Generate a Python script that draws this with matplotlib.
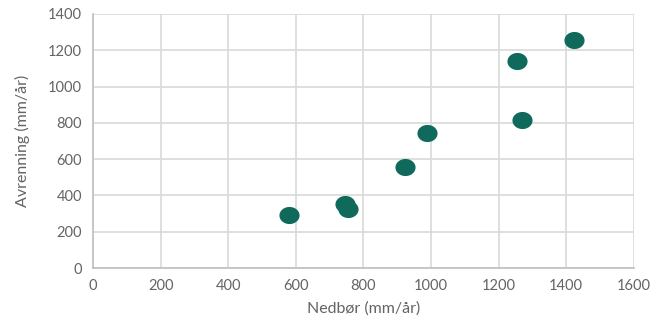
import numpy as np
import matplotlib.pyplot as plt
from matplotlib.path import Path

nedbor = [580, 745, 754, 923, 988, 1254, 1269, 1423]
avrenning = [292, 353, 325, 557, 744, 1141, 816, 1257]

x_ticks = [0, 200, 400, 600, 800, 1000, 1200, 1400, 1600]
y_ticks = [0, 200, 400, 600, 800, 1000, 1200, 1400]

plt.rcParams["font.family"] = ["Lato", "DejaVu Sans"]

# slightly flattened circle, like the Excel marker
t = np.linspace(0, 2 * np.pi, 60)
ellipse = Path(np.column_stack([np.cos(t), 0.85 * np.sin(t)]), closed=True)

fig = plt.figure(figsize=(6.65, 3.23), dpi=100)
ax = fig.add_axes([0.140, 0.170, 0.813, 0.787])

ax.plot(nedbor, avrenning, linestyle="none", marker=ellipse, markersize=14.5,
        color="#0F6A5C", markeredgewidth=0, zorder=3)

ax.set_xlim(0, 1600)
ax.set_ylim(0, 1400)
ax.set_xticks(x_ticks)
ax.set_yticks(y_ticks)
ax.grid(True, color="#d9d9d9", linewidth=1.2)
ax.set_axisbelow(True)
for s in ["top", "right"]:
    ax.spines[s].set_visible(False)
for s in ["left", "bottom"]:
    ax.spines[s].set_color("#bfbfbf")
    ax.spines[s].set_linewidth(1.2)
ax.tick_params(length=0, labelsize=10.5, colors="#646464", pad=8)

ax.set_xlabel("Nedbør (mm/år)", fontsize=11.5, color="#646464", labelpad=6)
ax.set_ylabel("Avrenning (mm/år)", fontsize=11.5, color="#646464", labelpad=13)

fig.savefig("out.png", dpi=100)
